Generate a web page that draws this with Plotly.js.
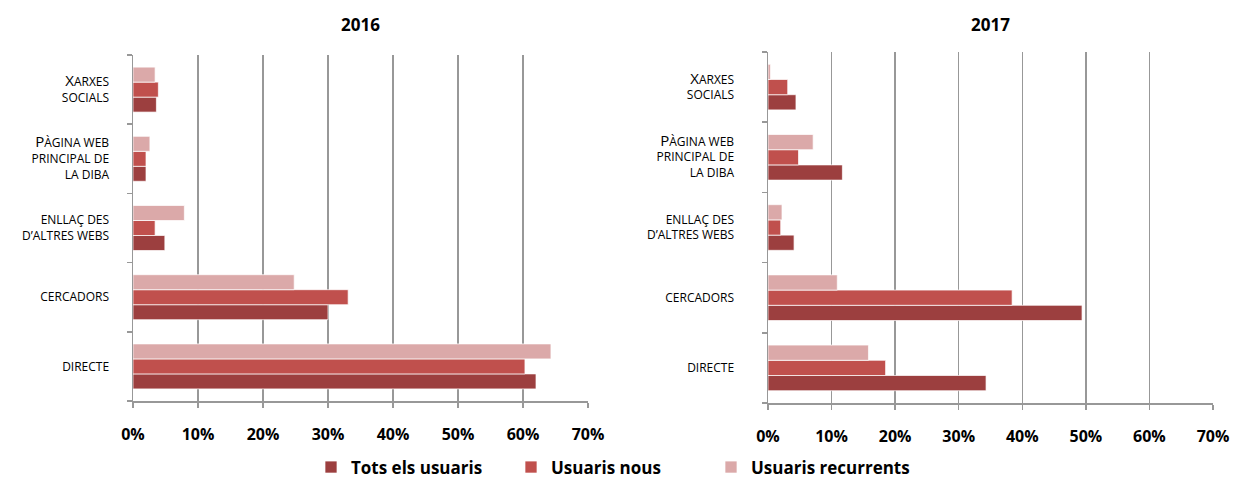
<!DOCTYPE html>
<html>
<head>
<meta charset="utf-8">
<script src="https://cdn.plot.ly/plotly-3.0.1.min.js"></script>
<style>html,body{margin:0;padding:0;background:#fff;}#chart{width:1243px;height:479px;}</style>
</head>
<body>
<div id="chart"></div>
<script>
// Categories listed bottom to top
const categories = ["Directe", "Cercadors", "Enllaç des d’altres webs", "Pàgina web principal de la Diba", "Xarxes socials"];
// Tick labels as shown (small caps style), same order
const categoryLabels = [
  "DIRECTE",
  "CERCADORS",
  "ENLLAÇ DES<br>D’ALTRES WEBS",
  "<span style='font-size:15px'>P</span>ÀGINA WEB<br>PRINCIPAL DE<br>LA DIBA",
  "<span style='font-size:15px'>X</span>ARXES<br>SOCIALS"
];
const seriesNames = ["Tots els usuaris", "Usuaris nous", "Usuaris recurrents"];
// 2016 values (%)
const tots2016 = [62.0, 30.0, 4.9, 2.0, 3.6];
const nous2016 = [60.3, 33.1, 3.4, 2.0, 3.9];
const recurrents2016 = [64.3, 24.8, 7.9, 2.6, 3.4];
// 2017 values (%)
const tots2017 = [34.3, 49.4, 4.1, 11.7, 4.4];
const nous2017 = [18.5, 38.4, 2.0, 4.8, 3.1];
const recurrents2017 = [15.8, 10.9, 2.2, 7.1, 0.4];
const xTickVals = [0, 10, 20, 30, 40, 50, 60, 70];
const xTickText = ["0%", "10%", "20%", "30%", "40%", "50%", "60%", "70%"];
const colors = ["#9C3F3F", "#C0504D", "#DBA9A9"];

const fontFamily = "Open Sans, Liberation Sans, sans-serif";

function bar(vals, i, xa, ya, show) {
  return {
    type: "bar", orientation: "h",
    x: vals, y: categories,
    xaxis: xa, yaxis: ya,
    name: seriesNames[i],
    showlegend: show,
    marker: {color: colors[i], line: {color: "rgba(255,255,255,0.7)", width: 1}},
    hoverinfo: "x+name"
  };
}

const data = [
  bar(tots2016, 0, "x", "y", true),
  bar(nous2016, 1, "x", "y", true),
  bar(recurrents2016, 2, "x", "y", true),
  bar(tots2017, 0, "x2", "y2", false),
  bar(nous2017, 1, "x2", "y2", false),
  bar(recurrents2017, 2, "x2", "y2", false)
];

const H = 479, W = 1243;
function xAxis(domain) {
  return {
    domain: domain, range: [0, 70],
    tickvals: xTickVals, ticktext: xTickText,
    showgrid: true, gridcolor: "#989898", gridwidth: 1.5,
    zeroline: false,
    showline: true, linecolor: "#989898", linewidth: 1.5,
    ticks: "outside", ticklen: 5, tickcolor: "#989898", tickwidth: 1.5,
    ticklabelstandoff: 13,
    tickfont: {family: fontFamily, size: 16, color: "#000", weight: "bold"},
    automargin: false, fixedrange: true
  };
}
function yAxis(domain, anchor, standoff) {
  return {
    domain: domain, anchor: anchor,
    type: "category", categoryorder: "array", categoryarray: categories,
    tickvals: categories, ticktext: categoryLabels,
    showline: true, linecolor: "#989898", linewidth: 1.5,
    ticks: "outside", ticklen: 5, tickcolor: "#989898", tickwidth: 1.5,
    tickson: "boundaries",
    ticklabelstandoff: standoff,
    tickfont: {family: fontFamily, size: 12, color: "#000"},
    showgrid: false, automargin: false, fixedrange: true
  };
}

const layout = {
  width: W, height: H,
  margin: {l: 0, r: 0, t: 0, b: 0, autoexpand: false},
  paper_bgcolor: "#fff", plot_bgcolor: "#fff",
  barmode: "group", bargap: 0.35, bargroupgap: 0,
  xaxis: Object.assign(xAxis([133 / W, 588 / W]), {anchor: "y"}),
  yaxis: yAxis([1 - 401 / H, 1 - 55 / H], "x", 20),
  xaxis2: Object.assign(xAxis([768 / W, 1213 / W]), {anchor: "y2"}),
  yaxis2: yAxis([1 - 403 / H, 1 - 52 / H], "x2", 30),
  showlegend: true,
  legend: {
    orientation: "h", x: (330 - 19) / W, xanchor: "left", y: 0.024, yanchor: "middle",
    font: {family: fontFamily, size: 17, color: "#000", weight: "bold"},
    entrywidth: 155, traceorder: "normal"
  },
  annotations: [
    {text: "2016", xref: "x domain", yref: "paper", x: 0.5, y: 1 - 24 / H, yanchor: "middle", showarrow: false,
     font: {family: fontFamily, size: 17, color: "#000", weight: "bold"}},
    {text: "2017", xref: "x2 domain", yref: "paper", x: 0.5, y: 1 - 24 / H, yanchor: "middle", showarrow: false,
     font: {family: fontFamily, size: 17, color: "#000", weight: "bold"}}
  ]
};

Plotly.newPlot("chart", data, layout, {displayModeBar: false, staticPlot: true});
</script>
</body>
</html>
